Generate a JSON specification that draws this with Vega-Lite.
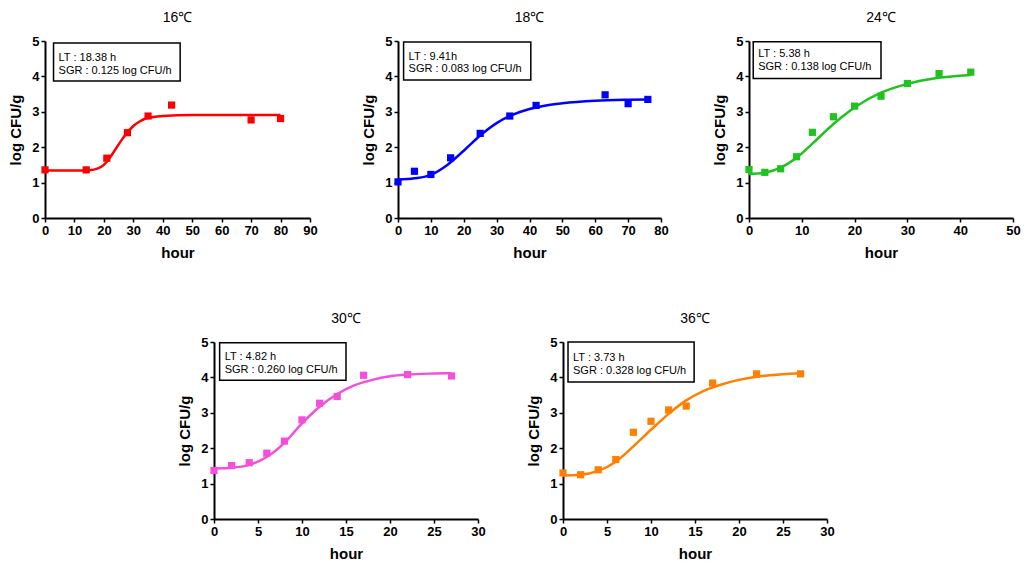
{
  "$schema": "https://vega.github.io/schema/vega-lite/v6.json",
  "padding": {"left": 8, "top": 11, "right": 3, "bottom": 3},
  "background": "white",
  "datasets": {
    "points": [
      {"temp": "16", "hour": 0, "logcfu": 1.36},
      {"temp": "16", "hour": 14, "logcfu": 1.36},
      {"temp": "16", "hour": 21, "logcfu": 1.69},
      {"temp": "16", "hour": 28, "logcfu": 2.41},
      {"temp": "16", "hour": 35, "logcfu": 2.88},
      {"temp": "16", "hour": 43, "logcfu": 3.19},
      {"temp": "16", "hour": 70, "logcfu": 2.77},
      {"temp": "16", "hour": 80, "logcfu": 2.81},
      {"temp": "18", "hour": 0, "logcfu": 1.02},
      {"temp": "18", "hour": 5, "logcfu": 1.32},
      {"temp": "18", "hour": 10, "logcfu": 1.23},
      {"temp": "18", "hour": 16, "logcfu": 1.70},
      {"temp": "18", "hour": 25, "logcfu": 2.39},
      {"temp": "18", "hour": 34, "logcfu": 2.88},
      {"temp": "18", "hour": 42, "logcfu": 3.18},
      {"temp": "18", "hour": 63, "logcfu": 3.48},
      {"temp": "18", "hour": 70, "logcfu": 3.23},
      {"temp": "18", "hour": 76, "logcfu": 3.35},
      {"temp": "24", "hour": 0, "logcfu": 1.37},
      {"temp": "24", "hour": 3, "logcfu": 1.29},
      {"temp": "24", "hour": 6, "logcfu": 1.39},
      {"temp": "24", "hour": 9, "logcfu": 1.73},
      {"temp": "24", "hour": 12, "logcfu": 2.42},
      {"temp": "24", "hour": 16, "logcfu": 2.86},
      {"temp": "24", "hour": 20, "logcfu": 3.16},
      {"temp": "24", "hour": 25, "logcfu": 3.44},
      {"temp": "24", "hour": 30, "logcfu": 3.80},
      {"temp": "24", "hour": 36, "logcfu": 4.08},
      {"temp": "24", "hour": 42, "logcfu": 4.12},
      {"temp": "30", "hour": 0, "logcfu": 1.37},
      {"temp": "30", "hour": 2, "logcfu": 1.51},
      {"temp": "30", "hour": 4, "logcfu": 1.59},
      {"temp": "30", "hour": 6, "logcfu": 1.86},
      {"temp": "30", "hour": 8, "logcfu": 2.20},
      {"temp": "30", "hour": 10, "logcfu": 2.80},
      {"temp": "30", "hour": 12, "logcfu": 3.27},
      {"temp": "30", "hour": 14, "logcfu": 3.46},
      {"temp": "30", "hour": 17, "logcfu": 4.06},
      {"temp": "30", "hour": 22, "logcfu": 4.08},
      {"temp": "30", "hour": 27, "logcfu": 4.04},
      {"temp": "36", "hour": 0, "logcfu": 1.30},
      {"temp": "36", "hour": 2, "logcfu": 1.25},
      {"temp": "36", "hour": 4, "logcfu": 1.39},
      {"temp": "36", "hour": 6, "logcfu": 1.68},
      {"temp": "36", "hour": 8, "logcfu": 2.45},
      {"temp": "36", "hour": 10, "logcfu": 2.76},
      {"temp": "36", "hour": 12, "logcfu": 3.08},
      {"temp": "36", "hour": 14, "logcfu": 3.19},
      {"temp": "36", "hour": 17, "logcfu": 3.84},
      {"temp": "36", "hour": 22, "logcfu": 4.10},
      {"temp": "36", "hour": 27, "logcfu": 4.10}
    ],
    "curves": [
      {"temp": "16", "hour": 0, "fit": 1.34},
      {"temp": "16", "hour": 10, "fit": 1.34},
      {"temp": "16", "hour": 15, "fit": 1.35},
      {"temp": "16", "hour": 18, "fit": 1.40},
      {"temp": "16", "hour": 20, "fit": 1.50},
      {"temp": "16", "hour": 22, "fit": 1.70},
      {"temp": "16", "hour": 24, "fit": 1.95},
      {"temp": "16", "hour": 26, "fit": 2.20},
      {"temp": "16", "hour": 28, "fit": 2.42},
      {"temp": "16", "hour": 30, "fit": 2.60},
      {"temp": "16", "hour": 32, "fit": 2.72},
      {"temp": "16", "hour": 35, "fit": 2.83},
      {"temp": "16", "hour": 40, "fit": 2.88},
      {"temp": "16", "hour": 50, "fit": 2.91},
      {"temp": "16", "hour": 60, "fit": 2.91},
      {"temp": "16", "hour": 80, "fit": 2.91},
      {"temp": "18", "hour": 0, "fit": 1.08},
      {"temp": "18", "hour": 5, "fit": 1.12},
      {"temp": "18", "hour": 10, "fit": 1.22},
      {"temp": "18", "hour": 15, "fit": 1.50},
      {"temp": "18", "hour": 20, "fit": 1.90},
      {"temp": "18", "hour": 25, "fit": 2.33},
      {"temp": "18", "hour": 30, "fit": 2.68},
      {"temp": "18", "hour": 35, "fit": 2.92},
      {"temp": "18", "hour": 40, "fit": 3.08},
      {"temp": "18", "hour": 45, "fit": 3.18},
      {"temp": "18", "hour": 50, "fit": 3.24},
      {"temp": "18", "hour": 60, "fit": 3.31},
      {"temp": "18", "hour": 70, "fit": 3.34},
      {"temp": "18", "hour": 76, "fit": 3.35},
      {"temp": "24", "hour": 0, "fit": 1.24},
      {"temp": "24", "hour": 3, "fit": 1.28},
      {"temp": "24", "hour": 6, "fit": 1.42},
      {"temp": "24", "hour": 9, "fit": 1.70},
      {"temp": "24", "hour": 12, "fit": 2.10},
      {"temp": "24", "hour": 15, "fit": 2.52},
      {"temp": "24", "hour": 18, "fit": 2.90},
      {"temp": "24", "hour": 20, "fit": 3.12},
      {"temp": "24", "hour": 25, "fit": 3.54},
      {"temp": "24", "hour": 30, "fit": 3.79},
      {"temp": "24", "hour": 35, "fit": 3.94},
      {"temp": "24", "hour": 42, "fit": 4.04},
      {"temp": "30", "hour": 0, "fit": 1.43},
      {"temp": "30", "hour": 2, "fit": 1.45},
      {"temp": "30", "hour": 4, "fit": 1.53},
      {"temp": "30", "hour": 6, "fit": 1.75},
      {"temp": "30", "hour": 8, "fit": 2.15},
      {"temp": "30", "hour": 10, "fit": 2.70},
      {"temp": "30", "hour": 12, "fit": 3.17},
      {"temp": "30", "hour": 14, "fit": 3.53},
      {"temp": "30", "hour": 16, "fit": 3.78},
      {"temp": "30", "hour": 18, "fit": 3.93},
      {"temp": "30", "hour": 20, "fit": 4.03},
      {"temp": "30", "hour": 22, "fit": 4.08},
      {"temp": "30", "hour": 25, "fit": 4.11},
      {"temp": "30", "hour": 27, "fit": 4.12},
      {"temp": "36", "hour": 0, "fit": 1.23},
      {"temp": "36", "hour": 2, "fit": 1.25},
      {"temp": "36", "hour": 4, "fit": 1.36},
      {"temp": "36", "hour": 6, "fit": 1.62},
      {"temp": "36", "hour": 8, "fit": 2.05},
      {"temp": "36", "hour": 10, "fit": 2.52},
      {"temp": "36", "hour": 12, "fit": 2.97},
      {"temp": "36", "hour": 14, "fit": 3.35},
      {"temp": "36", "hour": 16, "fit": 3.62},
      {"temp": "36", "hour": 18, "fit": 3.80},
      {"temp": "36", "hour": 20, "fit": 3.93},
      {"temp": "36", "hour": 22, "fit": 4.02},
      {"temp": "36", "hour": 25, "fit": 4.09},
      {"temp": "36", "hour": 27, "fit": 4.12}
    ],
    "stats": [
      {"temp": "16", "lt": "LT : 18.38 h", "sgr": "SGR : 0.125 log CFU/h"},
      {"temp": "18", "lt": "LT : 9.41h", "sgr": "SGR : 0.083 log CFU/h"},
      {"temp": "24", "lt": "LT : 5.38 h", "sgr": "SGR : 0.138 log CFU/h"},
      {"temp": "30", "lt": "LT : 4.82 h", "sgr": "SGR : 0.260 log CFU/h"},
      {"temp": "36", "lt": "LT : 3.73 h", "sgr": "SGR : 0.328 log CFU/h"}
    ]
  },
  "vconcat": [
    {
      "hconcat": [
        {
          "width": 265, "height": 177,
          "title": "16℃",
          "encoding": {
            "x": {"type": "quantitative", "scale": {"domain": [0, 90], "nice": false}, "axis": {"values": [0, 10, 20, 30, 40, 50, 60, 70, 80, 90], "title": "hour"}},
            "y": {"type": "quantitative", "scale": {"domain": [0, 5], "nice": false}, "axis": {"values": [0, 1, 2, 3, 4, 5], "title": "log CFU/g"}}
          },
          "layer": [
            {"data": {"name": "stats"}, "transform": [{"filter": "datum.temp == '16'"}], "mark": {"type": "rect", "fill": "white", "stroke": "black", "strokeWidth": 1.5},
             "encoding": {"x": {"datum": 2.9}, "x2": {"datum": 45.9}, "y": {"datum": 4.94}, "y2": {"datum": 3.87}}},
            {"data": {"name": "stats"}, "transform": [{"filter": "datum.temp == '16'"}], "mark": {"type": "text", "align": "left", "dx": 5, "fontSize": 11},
             "encoding": {"x": {"datum": 2.9}, "y": {"datum": 4.52}, "text": {"field": "lt"}}},
            {"data": {"name": "stats"}, "transform": [{"filter": "datum.temp == '16'"}], "mark": {"type": "text", "align": "left", "dx": 5, "fontSize": 11},
             "encoding": {"x": {"datum": 2.9}, "y": {"datum": 4.15}, "text": {"field": "sgr"}}},
            {"data": {"name": "curves"}, "transform": [{"filter": "datum.temp == '16'"}], "mark": {"type": "line", "color": "#ff0000", "strokeWidth": 2.5, "interpolate": "monotone"},
             "encoding": {"x": {"field": "hour"}, "y": {"field": "fit"}}},
            {"data": {"name": "points"}, "transform": [{"filter": "datum.temp == '16'"}], "mark": {"type": "square", "color": "#ff0000", "filled": true, "opacity": 1, "size": 52},
             "encoding": {"x": {"field": "hour"}, "y": {"field": "logcfu"}}}
          ]
        },
        {
          "width": 263, "height": 177,
          "title": "18℃",
          "encoding": {
            "x": {"type": "quantitative", "scale": {"domain": [0, 80], "nice": false}, "axis": {"values": [0, 10, 20, 30, 40, 50, 60, 70, 80], "title": "hour"}},
            "y": {"type": "quantitative", "scale": {"domain": [0, 5], "nice": false}, "axis": {"values": [0, 1, 2, 3, 4, 5], "title": "log CFU/g"}}
          },
          "layer": [
            {"data": {"name": "stats"}, "transform": [{"filter": "datum.temp == '18'"}], "mark": {"type": "rect", "fill": "white", "stroke": "black", "strokeWidth": 1.5},
             "encoding": {"x": {"datum": 1.7}, "x2": {"datum": 40.4}, "y": {"datum": 4.97}, "y2": {"datum": 3.90}}},
            {"data": {"name": "stats"}, "transform": [{"filter": "datum.temp == '18'"}], "mark": {"type": "text", "align": "left", "dx": 5, "fontSize": 11},
             "encoding": {"x": {"datum": 1.7}, "y": {"datum": 4.55}, "text": {"field": "lt"}}},
            {"data": {"name": "stats"}, "transform": [{"filter": "datum.temp == '18'"}], "mark": {"type": "text", "align": "left", "dx": 5, "fontSize": 11},
             "encoding": {"x": {"datum": 1.7}, "y": {"datum": 4.20}, "text": {"field": "sgr"}}},
            {"data": {"name": "curves"}, "transform": [{"filter": "datum.temp == '18'"}], "mark": {"type": "line", "color": "#0000ff", "strokeWidth": 2.5, "interpolate": "monotone"},
             "encoding": {"x": {"field": "hour"}, "y": {"field": "fit"}}},
            {"data": {"name": "points"}, "transform": [{"filter": "datum.temp == '18'"}], "mark": {"type": "square", "color": "#0000ff", "filled": true, "opacity": 1, "size": 52},
             "encoding": {"x": {"field": "hour"}, "y": {"field": "logcfu"}}}
          ]
        },
        {
          "width": 264, "height": 177,
          "title": "24℃",
          "encoding": {
            "x": {"type": "quantitative", "scale": {"domain": [0, 50], "nice": false}, "axis": {"values": [0, 10, 20, 30, 40, 50], "title": "hour"}},
            "y": {"type": "quantitative", "scale": {"domain": [0, 5], "nice": false}, "axis": {"values": [0, 1, 2, 3, 4, 5], "title": "log CFU/g"}}
          },
          "layer": [
            {"data": {"name": "stats"}, "transform": [{"filter": "datum.temp == '24'"}], "mark": {"type": "rect", "fill": "white", "stroke": "black", "strokeWidth": 1.5},
             "encoding": {"x": {"datum": 0.8}, "x2": {"datum": 25.0}, "y": {"datum": 4.98}, "y2": {"datum": 3.94}}},
            {"data": {"name": "stats"}, "transform": [{"filter": "datum.temp == '24'"}], "mark": {"type": "text", "align": "left", "dx": 5, "fontSize": 11},
             "encoding": {"x": {"datum": 0.8}, "y": {"datum": 4.62}, "text": {"field": "lt"}}},
            {"data": {"name": "stats"}, "transform": [{"filter": "datum.temp == '24'"}], "mark": {"type": "text", "align": "left", "dx": 5, "fontSize": 11},
             "encoding": {"x": {"datum": 0.8}, "y": {"datum": 4.26}, "text": {"field": "sgr"}}},
            {"data": {"name": "curves"}, "transform": [{"filter": "datum.temp == '24'"}], "mark": {"type": "line", "color": "#1fc21f", "strokeWidth": 2.5, "interpolate": "monotone"},
             "encoding": {"x": {"field": "hour"}, "y": {"field": "fit"}}},
            {"data": {"name": "points"}, "transform": [{"filter": "datum.temp == '24'"}], "mark": {"type": "square", "color": "#1fc21f", "filled": true, "opacity": 1, "size": 52},
             "encoding": {"x": {"field": "hour"}, "y": {"field": "logcfu"}}}
          ]
        }
      ],
      "spacing": 43
    },
    {
      "hconcat": [
        {
          "width": 92, "height": 177,
          "data": {"values": []},
          "mark": "point",
          "encoding": {}
        },
        {
          "width": 264, "height": 177,
          "title": "30℃",
          "encoding": {
            "x": {"type": "quantitative", "scale": {"domain": [0, 30], "nice": false}, "axis": {"values": [0, 5, 10, 15, 20, 25, 30], "title": "hour"}},
            "y": {"type": "quantitative", "scale": {"domain": [0, 5], "nice": false}, "axis": {"values": [0, 1, 2, 3, 4, 5], "title": "log CFU/g"}}
          },
          "layer": [
            {"data": {"name": "stats"}, "transform": [{"filter": "datum.temp == '30'"}], "mark": {"type": "rect", "fill": "white", "stroke": "black", "strokeWidth": 1.5},
             "encoding": {"x": {"datum": 0.64}, "x2": {"datum": 15.0}, "y": {"datum": 4.98}, "y2": {"datum": 3.92}}},
            {"data": {"name": "stats"}, "transform": [{"filter": "datum.temp == '30'"}], "mark": {"type": "text", "align": "left", "dx": 5, "fontSize": 11},
             "encoding": {"x": {"datum": 0.64}, "y": {"datum": 4.58}, "text": {"field": "lt"}}},
            {"data": {"name": "stats"}, "transform": [{"filter": "datum.temp == '30'"}], "mark": {"type": "text", "align": "left", "dx": 5, "fontSize": 11},
             "encoding": {"x": {"datum": 0.64}, "y": {"datum": 4.22}, "text": {"field": "sgr"}}},
            {"data": {"name": "curves"}, "transform": [{"filter": "datum.temp == '30'"}], "mark": {"type": "line", "color": "#f44fdc", "strokeWidth": 2.5, "interpolate": "monotone"},
             "encoding": {"x": {"field": "hour"}, "y": {"field": "fit"}}},
            {"data": {"name": "points"}, "transform": [{"filter": "datum.temp == '30'"}], "mark": {"type": "square", "color": "#f44fdc", "filled": true, "opacity": 1, "size": 52},
             "encoding": {"x": {"field": "hour"}, "y": {"field": "logcfu"}}}
          ]
        },
        {
          "width": 264, "height": 177,
          "title": "36℃",
          "encoding": {
            "x": {"type": "quantitative", "scale": {"domain": [0, 30], "nice": false}, "axis": {"values": [0, 5, 10, 15, 20, 25, 30], "title": "hour"}},
            "y": {"type": "quantitative", "scale": {"domain": [0, 5], "nice": false}, "axis": {"values": [0, 1, 2, 3, 4, 5], "title": "log CFU/g"}}
          },
          "layer": [
            {"data": {"name": "stats"}, "transform": [{"filter": "datum.temp == '36'"}], "mark": {"type": "rect", "fill": "white", "stroke": "black", "strokeWidth": 1.5},
             "encoding": {"x": {"datum": 0.57}, "x2": {"datum": 14.9}, "y": {"datum": 5.0}, "y2": {"datum": 3.87}}},
            {"data": {"name": "stats"}, "transform": [{"filter": "datum.temp == '36'"}], "mark": {"type": "text", "align": "left", "dx": 5, "fontSize": 11},
             "encoding": {"x": {"datum": 0.57}, "y": {"datum": 4.55}, "text": {"field": "lt"}}},
            {"data": {"name": "stats"}, "transform": [{"filter": "datum.temp == '36'"}], "mark": {"type": "text", "align": "left", "dx": 5, "fontSize": 11},
             "encoding": {"x": {"datum": 0.57}, "y": {"datum": 4.17}, "text": {"field": "sgr"}}},
            {"data": {"name": "curves"}, "transform": [{"filter": "datum.temp == '36'"}], "mark": {"type": "line", "color": "#ff8000", "strokeWidth": 2.5, "interpolate": "monotone"},
             "encoding": {"x": {"field": "hour"}, "y": {"field": "fit"}}},
            {"data": {"name": "points"}, "transform": [{"filter": "datum.temp == '36'"}], "mark": {"type": "square", "color": "#ff8000", "filled": true, "opacity": 1, "size": 52},
             "encoding": {"x": {"field": "hour"}, "y": {"field": "logcfu"}}}
          ]
        }
      ],
      "spacing": 40
    }
  ],
  "spacing": 52,
  "config": {
    "view": {"stroke": null},
    "font": "Liberation Sans",
    "text": {"font": "Liberation Sans", "color": "black", "baseline": "middle"},
    "title": {"font": "Liberation Sans", "fontSize": 14, "fontWeight": "normal", "color": "black", "frame": "group", "anchor": "middle", "offset": 10},
    "axis": {
      "grid": false,
      "domainColor": "black",
      "domainWidth": 2,
      "tickColor": "black",
      "tickWidth": 1.5,
      "tickSize": 4,
      "labelFont": "Liberation Sans",
      "labelFontSize": 13,
      "labelFontWeight": "bold",
      "labelColor": "black",
      "labelPadding": 2,
      "titleFont": "Liberation Sans",
      "titleFontSize": 15,
      "titleFontWeight": "bold",
      "titleColor": "black"
    },
    "axisX": {"labelFlush": false, "labelOverlap": false, "titlePadding": 8},
    "axisY": {"titlePadding": 8, "labelFlush": false}
  }
}
